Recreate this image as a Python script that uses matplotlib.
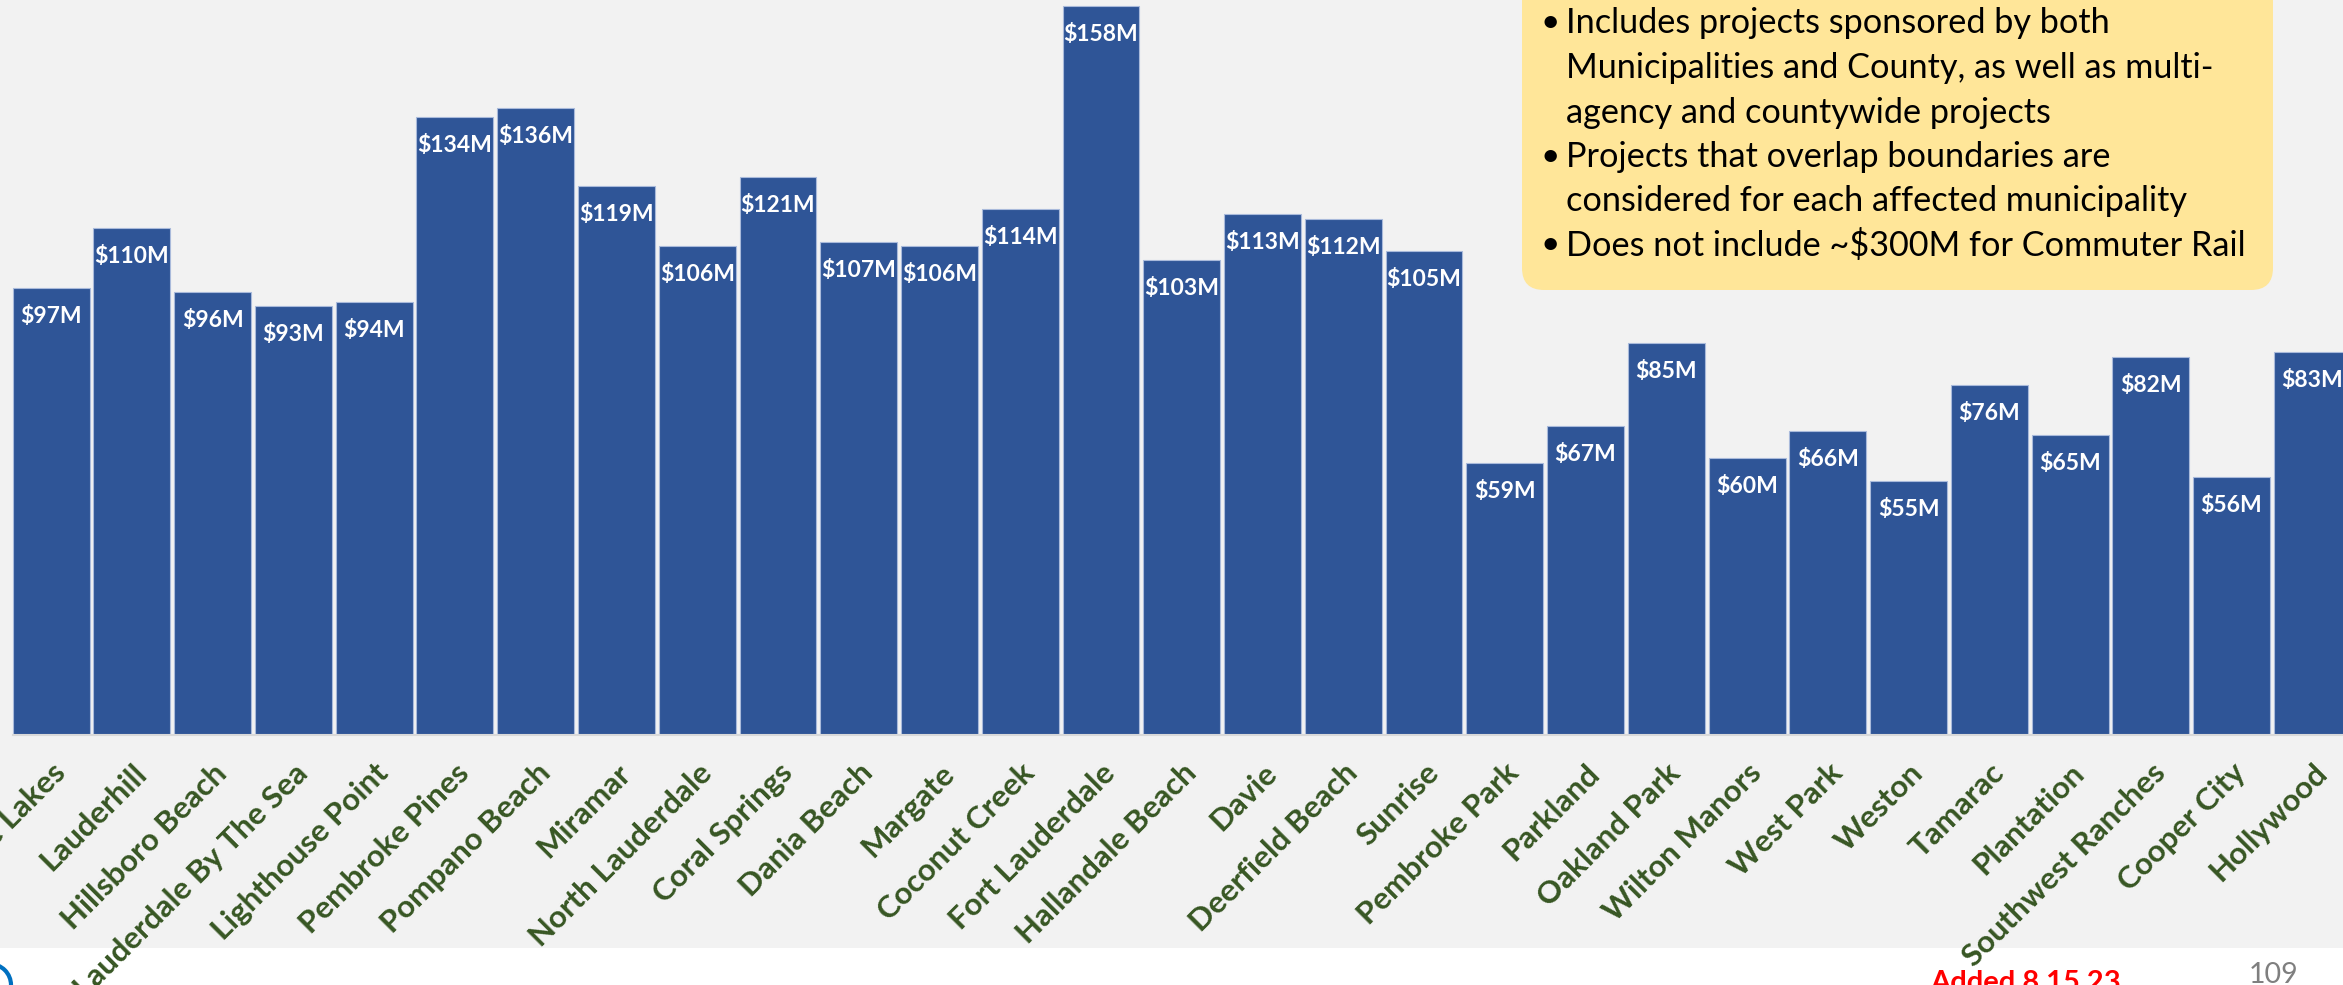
import matplotlib
matplotlib.use("Agg")
import matplotlib.pyplot as plt
from matplotlib.patches import Rectangle, FancyBboxPatch, Circle
from matplotlib.transforms import ScaledTranslation
import numpy as np

plt.rcParams['font.family'] = ['Lato', 'DejaVu Sans']

# Data (millions of dollars)
cities = ["Lauderdale Lakes", "Lauderhill", "Hillsboro Beach", "Lauderdale By The Sea",
          "Lighthouse Point", "Pembroke Pines", "Pompano Beach", "Miramar",
          "North Lauderdale", "Coral Springs", "Dania Beach", "Margate",
          "Coconut Creek", "Fort Lauderdale", "Hallandale Beach", "Davie",
          "Deerfield Beach", "Sunrise", "Pembroke Park", "Parkland",
          "Oakland Park", "Wilton Manors", "West Park", "Weston", "Tamarac",
          "Plantation", "Southwest Ranches", "Cooper City", "Hollywood"]
values = [97, 110, 96, 93, 94, 134, 136, 119, 106, 121, 107, 106, 114, 158,
          103, 113, 112, 105, 59, 67, 85, 60, 66, 55, 76, 65, 82, 56, 83]

notes = [
    ("\u2022", "Includes projects sponsored by both"),
    ("", "Municipalities and County, as well as multi-"),
    ("", "agency and countywide projects"),
    ("\u2022", "Projects that overlap boundaries are"),
    ("", "considered for each affected municipality"),
    ("\u2022", "Does not include ~$300M for Commuter Rail"),
]

bar_color = "#2F5597"
label_green = "#375623"
bg_gray = "#F2F2F2"

W, H = 2343, 985
fig = plt.figure(figsize=(W / 100, H / 100), dpi=100)
fig.patch.set_facecolor("white")
# gray slide area above the white footer strip
fig.patches.append(Rectangle((0, (H - 948) / H), 1, 948 / H, transform=fig.transFigure,
                             facecolor=bg_gray, edgecolor="none", zorder=-10))

ax = fig.add_axes([0, (H - 735) / H, 1, 735 / H])
ax.set_facecolor("none")

x = np.arange(len(values))
bars = ax.bar(x, values, width=0.953, color=bar_color, edgecolor="#A9BADB", linewidth=0.8)
ax.set_xlim(-0.634, 28.38)
ax.set_ylim(0, 159.4)

for xi, v in zip(x, values):
    ax.annotate(f"${v}M", (xi, v), xytext=(0, -20.5), textcoords="offset points",
                ha="center", va="center", color="white", fontsize=16.5, fontweight="bold")

ax.set_xticks(x)
ax.set_xticklabels(cities, rotation=45, ha="right", rotation_mode="anchor",
                   fontsize=22.5, fontweight="bold", color=label_green)
shift = ScaledTranslation(6 / 100, 0, fig.dpi_scale_trans)
for lbl in ax.get_xticklabels():
    lbl.set_transform(lbl.get_transform() + shift)
ax.tick_params(axis="x", length=0, pad=17)
ax.set_yticks([])
for s in ["top", "left", "right"]:
    ax.spines[s].set_visible(False)
ax.spines["bottom"].set_color("#D9D9D9")
ax.spines["bottom"].set_linewidth(1.5)
ax.spines["bottom"].set_bounds(-0.477, 28.5)

# overlay in pixel coordinates for the note box and footer
ov = fig.add_axes([0, 0, 1, 1])
ov.set_xlim(0, W)
ov.set_ylim(H, 0)
ov.axis("off")
ov.set_facecolor("none")

ov.add_patch(FancyBboxPatch((1522, -60), 751, 350,
                            boxstyle="round,pad=0,rounding_size=22",
                            facecolor="#FFE699", edgecolor="none"))
line_y = [23, 68, 113, 157, 201, 245]
for (bullet, txt), yy in zip(notes, line_y):
    if bullet:
        ov.text(1541, yy, bullet, ha="left", va="center", fontsize=24, color="black")
    ov.text(1566, yy, txt, ha="left", va="center", fontsize=24.7, color="black")

ov.text(1930, 970, "Added 8.15.23", ha="left", va="top", fontsize=21,
        fontweight="bold", color="#FF0000")
ov.text(2249, 962, "109", ha="left", va="top", fontsize=20.5, color="#7F7F7F")
ov.add_patch(Circle((-10, 985), 21, facecolor="none", edgecolor="#0070C0", linewidth=3))

fig.savefig("out.png", dpi=100)
